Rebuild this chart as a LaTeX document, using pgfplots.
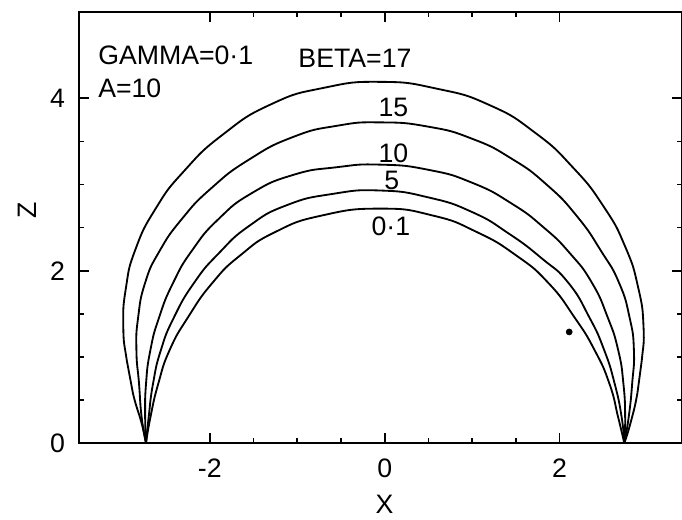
\documentclass[border=0pt]{standalone}
\usepackage{fontspec}
\setmainfont{Liberation Sans}
\usepackage{pgfplots}
\pgfplotsset{compat=1.18}
\begin{document}
\begin{tikzpicture}
\begin{axis}[
  name=ax,
  scale only axis,
  width=361.8pt, height=258.6pt,
  xmin=-3.5, xmax=3.40, ymin=0, ymax=5,
  axis line style={line width=1.2pt},
  xtick={-2,0,2}, xticklabels={-2,0,2},
  ytick={0,2,4}, yticklabels={0,2,4},
  minor x tick num=3, minor y tick num=3,
  major tick length=6pt, minor tick length=3pt,
  every tick/.style={line width=1pt, black},
  tick align=inside,
  font=\fontsize{16}{18}\selectfont,
  xticklabel style={anchor=north, inner sep=0pt, yshift=-9pt},
  yticklabel style={anchor=east, inner sep=0pt, xshift=-8pt},
  xlabel={X}, ylabel={Z},
  xlabel style={at={(axis description cs:0.507,-0.142)}, anchor=center},
  ylabel style={at={(axis description cs:-0.0855,0.54)}, anchor=center},
  clip=false,
]
% BETA = 17
\addplot[black, line width=1.1pt, smooth, tension=0.9] coordinates {
(-2.73,0) (-2.78,0.23) (-2.88,0.58) (-2.95,0.96) (-2.99,1.35) (-2.96,1.80) (-2.85,2.25)
(-2.62,2.72) (-2.30,3.15) (-1.85,3.58) (-1.30,3.93) (-0.70,4.12) (-0.05,4.19) (0.60,4.11)
(1.20,3.92) (1.72,3.60) (2.15,3.20) (2.50,2.75) (2.75,2.28) (2.90,1.80) (2.96,1.35)
(2.94,0.96) (2.89,0.58) (2.81,0.23) (2.74,0)};
% BETA = 15
\addplot[black, line width=1.1pt, smooth, tension=0.9] coordinates {
(-2.73,0) (-2.78,0.30) (-2.81,0.69) (-2.84,1.08) (-2.82,1.46) (-2.74,1.86) (-2.58,2.22)
(-2.32,2.60) (-1.98,2.96) (-1.55,3.29) (-1.05,3.55) (-0.55,3.68) (-0.05,3.72) (0.50,3.67)
(1.00,3.53) (1.45,3.30) (1.85,3.00) (2.20,2.63) (2.48,2.22) (2.68,1.86) (2.80,1.46)
(2.85,1.08) (2.83,0.69) (2.79,0.30) (2.74,0)};
% BETA = 10
\addplot[black, line width=1.1pt, smooth, tension=0.9] coordinates {
(-2.73,0) (-2.74,0.30) (-2.73,0.69) (-2.68,1.08) (-2.58,1.46) (-2.42,1.86) (-2.20,2.24)
(-1.90,2.60) (-1.52,2.90) (-1.05,3.11) (-0.55,3.20) (-0.05,3.23) (0.50,3.17) (1.00,3.02)
(1.45,2.78) (1.82,2.50) (2.12,2.20) (2.37,1.86) (2.55,1.46) (2.67,1.08) (2.73,0.69)
(2.75,0.30) (2.74,0)};
% BETA = 5
\addplot[black, line width=1.1pt, smooth, tension=0.9] coordinates {
(-2.73,0) (-2.70,0.30) (-2.65,0.69) (-2.56,1.08) (-2.41,1.46) (-2.18,1.86) (-1.90,2.20)
(-1.55,2.52) (-1.12,2.76) (-0.60,2.89) (-0.05,2.93) (0.50,2.85) (1.00,2.68) (1.42,2.43)
(1.80,2.14) (2.10,1.86) (2.34,1.46) (2.51,1.08) (2.63,0.69) (2.71,0.30) (2.74,0)};
% BETA = 0.1
\addplot[black, line width=1.1pt, smooth, tension=0.9] coordinates {
(-2.73,0) (-2.68,0.30) (-2.59,0.69) (-2.46,1.08) (-2.25,1.46) (-1.97,1.86) (-1.65,2.18)
(-1.25,2.45) (-0.72,2.64) (-0.05,2.72) (0.55,2.64) (1.05,2.45) (1.50,2.18) (1.87,1.86)
(2.17,1.46) (2.40,1.08) (2.57,0.69) (2.67,0.30) (2.74,0)};
% dot
\addplot[only marks, mark=*, mark size=1.8pt, black] coordinates {(2.11,1.29)};
\node[anchor=west, inner sep=0pt] at (axis cs:-3.28,4.50) {GAMMA=0·1};
\node[anchor=west, inner sep=0pt] at (axis cs:-3.28,4.12) {A=10};
\node[anchor=west, inner sep=0pt] at (axis cs:-0.99,4.46) {BETA=17};
\node[inner sep=0pt] at (axis cs:0.10,3.89) {15};
\node[inner sep=0pt] at (axis cs:0.10,3.36) {10};
\node[inner sep=0pt] at (axis cs:0.08,3.05) {5};
\node[inner sep=0pt] at (axis cs:0.07,2.51) {0·1};
\end{axis}
\pgfresetboundingbox
\path[use as bounding box] ([xshift=-47.2pt,yshift=-45.6pt]ax.south west) rectangle ([yshift=7.2pt]ax.north east);
\end{tikzpicture}
\end{document}
